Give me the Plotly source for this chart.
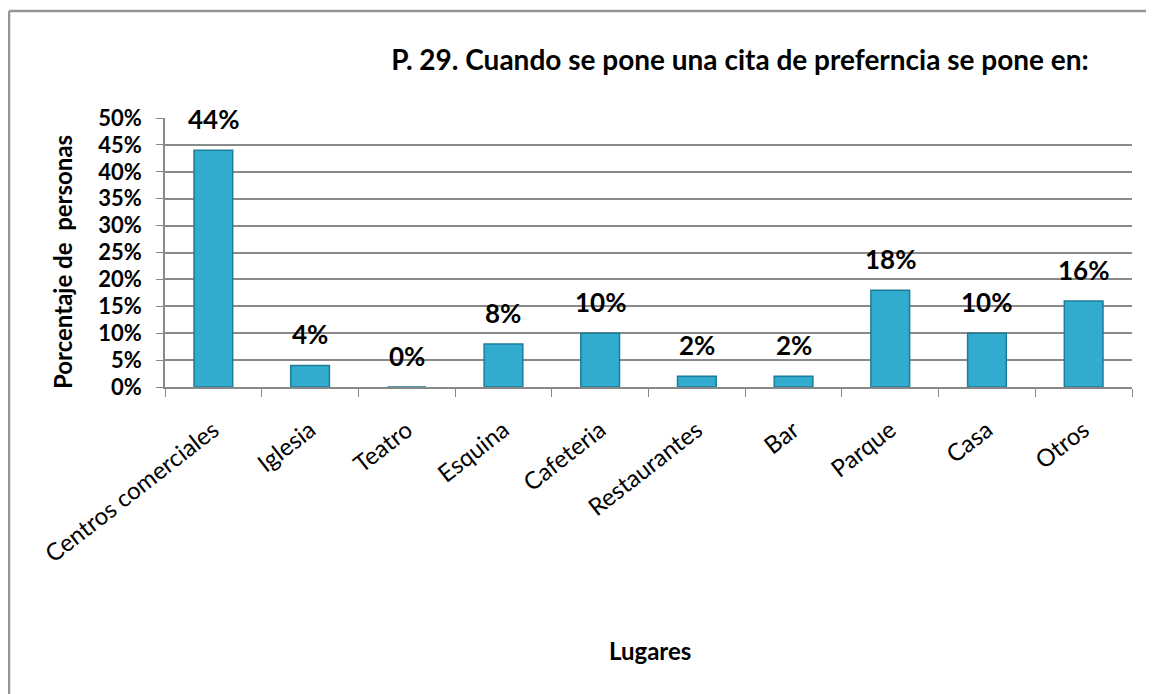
import plotly.graph_objects as go

categories = ["Centros comerciales", "Iglesia", "Teatro", "Esquina", "Cafeteria",
              "Restaurantes", "Bar", "Parque", "Casa", "Otros"]
values = [0.44, 0.04, 0.0, 0.08, 0.10, 0.02, 0.02, 0.18, 0.10, 0.16]
labels = ["44%", "4%", "0%", "8%", "10%", "2%", "2%", "18%", "10%", "16%"]
ytick_vals = [0, 0.05, 0.10, 0.15, 0.20, 0.25, 0.30, 0.35, 0.40, 0.45, 0.50]
ytick_text = ["0%", "5%", "10%", "15%", "20%", "25%", "30%", "35%", "40%", "45%", "50%"]

FONT = "Lato"
W, H = 1154, 694
OFF = 8  # page body margin
L, R, T, B = 157, 30, 110, 315
pw, ph = W - L - R, H - T - B

def px_x(sx):
    return (sx - OFF - L) / pw

def px_y(sy):
    return (H - B - (sy - OFF)) / ph

fig = go.Figure()
fig.add_trace(go.Bar(
    x=categories, y=values,
    marker=dict(color="#31acce", line=dict(color="#1d7d98", width=1.5)),
    width=0.4,
))

for c, v, t in zip(categories, values, labels):
    fig.add_annotation(x=c, y=v, text="<b>" + t + "</b>", showarrow=False, yshift=31,
                       font=dict(family=FONT, size=26, color="#000"),
                       xanchor="center", yanchor="middle")

# frame border (top and left visible)
fig.add_shape(type="line", xref="paper", yref="paper",
              x0=px_x(9), x1=px_x(1170), y0=px_y(11), y1=px_y(11),
              line=dict(color="#959595", width=2.5))
fig.add_shape(type="line", xref="paper", yref="paper",
              x0=px_x(9), x1=px_x(9), y0=px_y(11), y1=px_y(710),
              line=dict(color="#959595", width=2.5))

# axis titles
fig.add_annotation(xref="paper", yref="paper", x=px_x(650), y=px_y(650),
                   text="<b>Lugares</b>", showarrow=False,
                   font=dict(family=FONT, size=24, color="#000"),
                   xanchor="center", yanchor="middle")
fig.add_annotation(xref="paper", yref="paper", x=px_x(62), y=px_y(262),
                   text="<b>Porcentaje de  personas</b>", showarrow=False, textangle=-90,
                   font=dict(family=FONT, size=24, color="#000"),
                   xanchor="center", yanchor="middle")

fig.update_layout(
    width=W, height=H,
    margin=dict(l=L, r=R, t=T, b=B),
    paper_bgcolor="white", plot_bgcolor="white",
    showlegend=False,
    title=dict(text="<b>P. 29. Cuando se pone una cita de preferncia se pone en:</b>",
               x=px_x(740), xref="paper", xanchor="center",
               y=1 - (60 - OFF) / H, yanchor="middle",
               font=dict(family=FONT, size=28, color="#000")),
    xaxis=dict(
        type="category", tickangle=-38, tickson="boundaries",
        ticks="outside", ticklen=8, tickcolor="#888",
        showline=True, linecolor="#888", linewidth=1.5,
        showgrid=False,
        tickfont=dict(family=FONT, size=24, color="#000"),
        ticklabelstandoff=18,
        range=[-0.5, 9.5],
    ),
    yaxis=dict(
        range=[0, 0.5], tickvals=ytick_vals, ticktext=ytick_text,
        ticks="outside", ticklen=7, tickcolor="#888",
        showline=True, linecolor="#888", linewidth=1.5,
        showgrid=True, gridcolor="#8a8a8a", gridwidth=1.5,
        zeroline=False,
        ticklabelstandoff=10,
        tickfont=dict(family=FONT, size=22, color="#000", weight="bold"),
    ),
)

fig.write_html("out.html")
